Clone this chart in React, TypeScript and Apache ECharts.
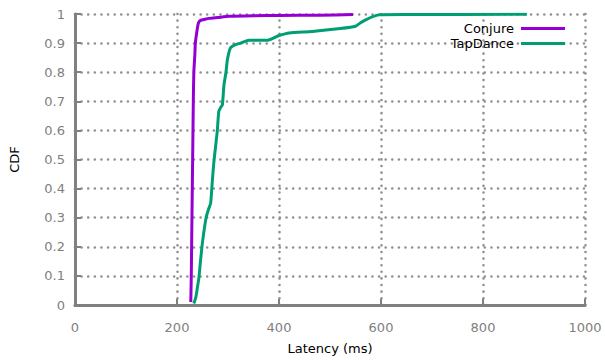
import React, { useEffect, useRef } from "react";
import * as echarts from "echarts";

const seriesNames = ["Conjure", "TapDance"];
const conjure: [number, number][] = [
  [227, 0.01], [228, 0.1], [229, 0.25], [230, 0.4], [231, 0.55], [232, 0.7], [233, 0.8],
  [235, 0.86], [236, 0.9], [239, 0.94], [242, 0.969], [246, 0.978], [255, 0.982],
  [263, 0.985], [280, 0.988], [302, 0.992], [350, 0.994], [400, 0.995], [480, 0.996], [545, 0.998],
];
const tapdance: [number, number][] = [
  [233, 0.005], [237, 0.027], [240, 0.06], [243, 0.094], [246, 0.15], [250, 0.216],
  [257, 0.3], [262, 0.33], [266, 0.35], [269, 0.42], [272, 0.486], [276, 0.55],
  [279, 0.598], [282, 0.666], [286, 0.68], [289, 0.688], [292, 0.755], [296, 0.8],
  [299, 0.845], [305, 0.884], [315, 0.895], [325, 0.9], [341, 0.91], [377, 0.91],
  [390, 0.918], [400, 0.926], [420, 0.935], [465, 0.94], [520, 0.95], [550, 0.958],
  [560, 0.97], [570, 0.98], [585, 0.992], [596, 0.997], [650, 0.998], [886, 0.999],
];

export default function App() {
  const ref = useRef<HTMLDivElement>(null);
  useEffect(() => {
    const chart = echarts.init(ref.current!, null, { renderer: "svg" });
    const gridLine = {
      show: true,
      lineStyle: { color: "#909090", width: 2.6, type: [0.01, 6.6] as any, cap: "round" as any },
    };
    chart.setOption({
      animation: false,
      textStyle: { fontFamily: "DejaVu Sans" },
      grid: { left: 75, right: 20, top: 14, bottom: 48 },
      legend: {
        data: seriesNames,
        orient: "vertical",
        right: 35,
        top: 17,
        align: "right",
        icon: "rect",
        itemWidth: 44,
        itemHeight: 3,
        itemGap: 2,
        textStyle: { fontSize: 13, color: "#000", fontFamily: "DejaVu Sans", padding: [0, 2, 0, 0] },
      },
      xAxis: {
        type: "value",
        min: 0,
        max: 1000,
        interval: 200,
        name: "Latency (ms)",
        nameLocation: "middle",
        nameGap: 37,
        nameTextStyle: { color: "#000", fontSize: 13 },
        axisLine: { show: true, lineStyle: { color: "#808080", width: 3 } },
        axisTick: { show: true, inside: true, length: 6, lineStyle: { color: "#808080", width: 2 } },
        axisLabel: { color: "#808080", fontSize: 13, margin: 16, formatter: (v: number) => String(v) },
        splitLine: gridLine,
      },
      yAxis: {
        type: "value",
        min: 0,
        max: 1,
        interval: 0.1,
        name: "CDF",
        nameLocation: "middle",
        nameGap: 54,
        nameTextStyle: { color: "#000", fontSize: 13 },
        axisLine: { show: true, lineStyle: { color: "#808080", width: 3 } },
        axisTick: { show: true, inside: true, length: 6, lineStyle: { color: "#808080", width: 2 } },
        axisLabel: { color: "#808080", fontSize: 13, margin: 10 },
        splitLine: gridLine,
      },
      series: [
        {
          name: seriesNames[0],
          type: "line",
          data: conjure,
          showSymbol: false,
          smooth: 0.2,
          lineStyle: { color: "#9400D3", width: 3 },
          itemStyle: { color: "#9400D3" },
        },
        {
          name: seriesNames[1],
          type: "line",
          data: tapdance,
          showSymbol: false,
          smooth: 0.2,
          lineStyle: { color: "#009E73", width: 3 },
          itemStyle: { color: "#009E73" },
        },
      ],
    });
    return () => chart.dispose();
  }, []);
  return <div ref={ref} style={{ width: 605, height: 360, position: "absolute", left: 0, top: 0 }} />;
}
